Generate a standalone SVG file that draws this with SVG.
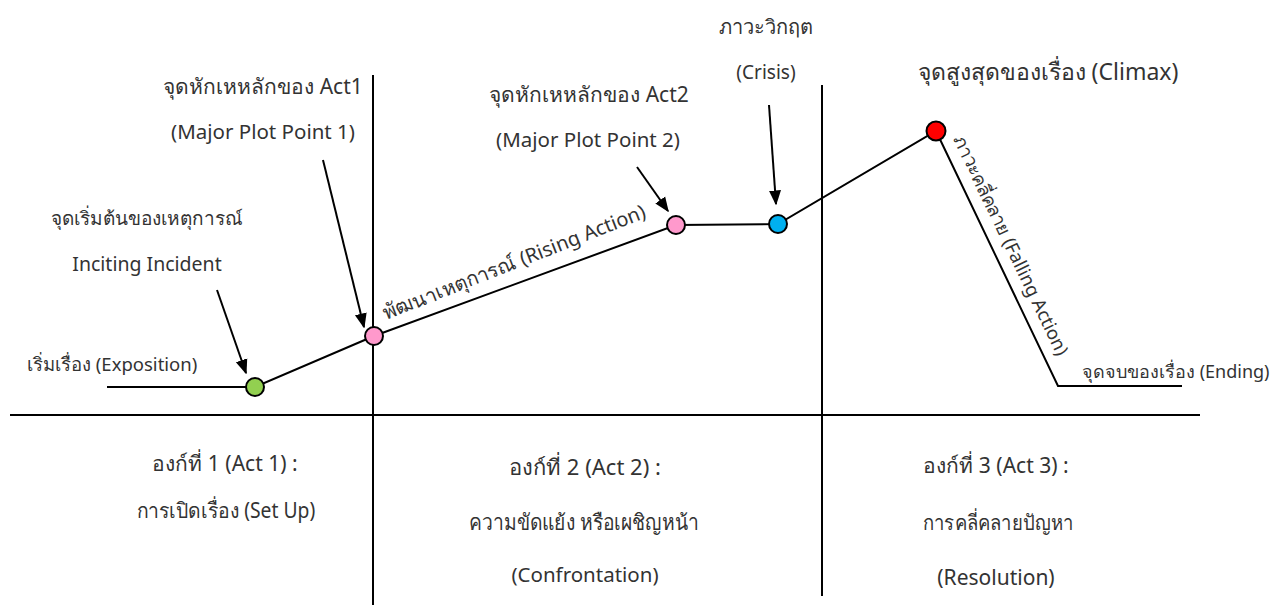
<svg xmlns="http://www.w3.org/2000/svg" width="1271" height="605" viewBox="0 0 1271 605">
<style>
.t{font-family:"Noto Sans","DejaVu Sans",sans-serif;font-size:19px;fill:#333;}
.m{text-anchor:middle;}
.ln{stroke:#000;stroke-width:2;fill:none;}
.ax{stroke:#000;stroke-width:2;fill:none;}
.ar{stroke:#000;stroke-width:2;fill:none;marker-end:url(#ah);}
.dot{stroke:#000;stroke-width:2;}
</style>
<defs>
<marker id="ah" viewBox="0 0 10 10" refX="9" refY="5" markerWidth="7.5" markerHeight="7.5" orient="auto" markerUnits="strokeWidth">
<path d="M0,1 L10,5 L0,9 z" fill="#000"/>
</marker>
</defs>
<g id="axes">
<line class="ax" x1="10" y1="415" x2="1200" y2="415"/>
<line class="ax" x1="373" y1="75" x2="373" y2="605"/>
<line class="ax" x1="822" y1="85" x2="822" y2="596"/>
</g>
<g id="connectors">
<polyline class="ln" points="107,387 255,387 374,336 676,225 778,224 936,131 1058,386 1182,386"/>
<line class="ar" x1="217" y1="290" x2="246" y2="373"/>
<line class="ar" x1="323" y1="160" x2="364" y2="327"/>
<line class="ar" x1="637" y1="167" x2="668" y2="211"/>
<line class="ar" x1="769" y1="105" x2="776" y2="204"/>
</g>
<g id="exposition"><text class="t" x="27" y="371" style="font-size:18.5px">เริ่มเรื่อง (Exposition)</text></g>
<g id="inciting">
<circle class="dot" cx="255" cy="387" r="9" fill="#92d050"/>
<text class="t m" x="147" y="225">จุดเริ่มต้นของเหตุการณ์</text>
<text class="t m" x="147" y="271" style="font-size:19.5px">Inciting Incident</text>
</g>
<g id="pp1">
<circle class="dot" cx="374" cy="336" r="9" fill="#ff99cc"/>
<text class="t m" x="263" y="94" style="font-size:21px">จุดหักเหหลักของ Act1</text>
<text class="t m" x="263" y="139" style="font-size:20.5px">(Major Plot Point 1)</text>
</g>
<g id="rising"><text class="t" transform="translate(386,320) rotate(-21.5)" style="font-size:20px">พัฒนาเหตุการณ์ (Rising Action)</text></g>
<g id="pp2">
<circle class="dot" cx="676" cy="225" r="9" fill="#ff99cc"/>
<text class="t m" x="589" y="102" style="font-size:21px">จุดหักเหหลักของ Act2</text>
<text class="t m" x="588" y="147" style="font-size:20.5px">(Major Plot Point 2)</text>
</g>
<g id="crisis">
<circle class="dot" cx="778" cy="224" r="9" fill="#00b0f0"/>
<text class="t m" x="766" y="34" style="font-size:20px">ภาวะวิกฤต</text>
<text class="t m" x="766" y="79">(Crisis)</text>
</g>
<g id="climax">
<circle class="dot" cx="936" cy="131" r="9.5" fill="#ff0000"/>
<text class="t m" x="1048" y="80" style="font-size:23px">จุดสูงสุดของเรื่อง (Climax)</text>
</g>
<g id="falling"><text class="t" transform="translate(953,139) rotate(64.4)" style="font-size:18.5px">ภาวะคลี่คลาย (Falling Action)</text></g>
<g id="ending"><text class="t" x="1082" y="378" style="font-size:18px">จุดจบของเรื่อง (Ending)</text></g>
<g id="act1">
<text class="t m" x="225" y="471" style="font-size:21px">องก์ที่ 1 (Act 1) :</text>
<text class="t m" transform="translate(226,518) scale(0.92,1)" style="font-size:21px">การเปิดเรื่อง (Set Up)</text>
</g>
<g id="act2">
<text class="t m" x="585" y="475" style="font-size:22px">องก์ที่ 2 (Act 2) :</text>
<text class="t m" transform="translate(584,530) scale(0.875,1)" style="font-size:22px">ความขัดแย้ง หรือเผชิญหน้า</text>
<text class="t m" x="585" y="582" style="font-size:20.5px">(Confrontation)</text>
</g>
<g id="act3">
<text class="t m" x="996" y="473" style="font-size:21px">องก์ที่ 3 (Act 3) :</text>
<text class="t m" transform="translate(998,530) scale(0.88,1)" style="font-size:21px">การคลี่คลายปัญหา</text>
<text class="t m" x="996" y="585" style="font-size:21px">(Resolution)</text>
</g>
</svg>
